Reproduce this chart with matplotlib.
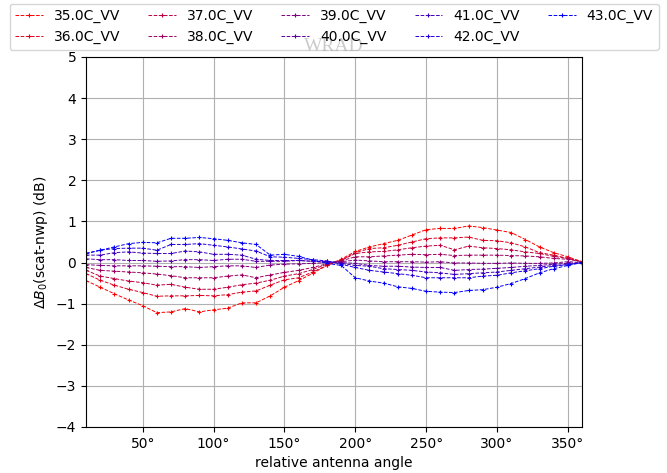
import numpy as np
import matplotlib
matplotlib.use("Agg")
import matplotlib.pyplot as plt
from matplotlib.ticker import FuncFormatter

angles = np.arange(10, 361, 10)
labels = ["35.0C_VV", "36.0C_VV", "37.0C_VV", "38.0C_VV", "39.0C_VV",
          "40.0C_VV", "41.0C_VV", "42.0C_VV", "43.0C_VV"]

s35 = [-0.44, -0.60, -0.76, -0.91, -1.05, -1.22, -1.20, -1.12, -1.20, -1.15, -1.11, -0.98,
       -0.98, -0.81, -0.60, -0.44, -0.26, -0.07, 0.08, 0.27, 0.38, 0.46, 0.54, 0.67,
       0.80, 0.83, 0.83, 0.89, 0.85, 0.79, 0.73, 0.56, 0.38, 0.24, 0.14, 0.02]
s36 = [-0.27, -0.43, -0.55, -0.65, -0.73, -0.82, -0.81, -0.81, -0.80, -0.81, -0.78, -0.72,
       -0.69, -0.55, -0.42, -0.37, -0.23, -0.07, 0.06, 0.24, 0.34, 0.36, 0.42, 0.50,
       0.58, 0.60, 0.60, 0.62, 0.54, 0.53, 0.48, 0.38, 0.24, 0.18, 0.10, 0.02]
s37 = [-0.19, -0.33, -0.39, -0.45, -0.49, -0.55, -0.53, -0.60, -0.65, -0.65, -0.60, -0.54,
       -0.50, -0.43, -0.33, -0.27, -0.17, -0.04, 0.05, 0.22, 0.26, 0.27, 0.31, 0.36,
       0.40, 0.42, 0.31, 0.40, 0.36, 0.34, 0.31, 0.26, 0.22, 0.15, 0.10, 0.02]
s38 = [-0.12, -0.19, -0.21, -0.23, -0.25, -0.28, -0.32, -0.37, -0.37, -0.37, -0.33, -0.30,
       -0.37, -0.30, -0.24, -0.19, -0.12, -0.03, 0.04, 0.14, 0.14, 0.16, 0.18, 0.20,
       0.19, 0.20, 0.17, 0.18, 0.18, 0.18, 0.17, 0.16, 0.14, 0.10, 0.08, 0.02]
s39 = [-0.05, -0.07, -0.08, -0.08, -0.08, -0.09, -0.10, -0.10, -0.12, -0.10, -0.08, -0.08,
       -0.12, -0.06, -0.04, -0.03, -0.02, 0.00, 0.02, 0.06, 0.04, 0.02, 0.02, 0.02,
       0.01, 0.02, -0.01, -0.01, -0.02, -0.02, -0.01, -0.02, -0.02, -0.01, 0.02, 0.00]
s40 = [0.09, 0.07, 0.07, 0.05, 0.05, 0.03, 0.04, 0.07, 0.07, 0.05, 0.08, 0.08,
       0.03, 0.03, 0.03, 0.05, 0.03, 0.03, 0.00, -0.02, -0.07, -0.09, -0.09, -0.11,
       -0.12, -0.12, -0.19, -0.17, -0.16, -0.14, -0.12, -0.09, -0.07, -0.04, -0.02, 0.00]
s41 = [0.18, 0.18, 0.24, 0.26, 0.23, 0.22, 0.22, 0.28, 0.26, 0.20, 0.20, 0.18,
       0.08, 0.05, 0.05, 0.05, 0.03, 0.02, -0.02, -0.07, -0.09, -0.15, -0.17, -0.19,
       -0.23, -0.25, -0.29, -0.27, -0.25, -0.23, -0.19, -0.15, -0.11, -0.07, -0.05, 0.00]
s42 = [0.22, 0.30, 0.34, 0.35, 0.35, 0.30, 0.44, 0.44, 0.46, 0.42, 0.38, 0.33,
       0.28, 0.14, 0.13, 0.10, 0.07, 0.04, -0.04, -0.12, -0.19, -0.23, -0.27, -0.31,
       -0.37, -0.37, -0.37, -0.37, -0.33, -0.31, -0.25, -0.20, -0.15, -0.09, -0.05, 0.00]
s43 = [0.22, 0.30, 0.38, 0.46, 0.49, 0.48, 0.59, 0.59, 0.61, 0.58, 0.54, 0.48,
       0.44, 0.18, 0.20, 0.15, 0.06, -0.02, -0.07, -0.37, -0.45, -0.50, -0.59, -0.63,
       -0.70, -0.72, -0.73, -0.68, -0.66, -0.60, -0.51, -0.39, -0.25, -0.15, -0.07, 0.00]

series = [s35, s36, s37, s38, s39, s40, s41, s42, s43]

fig = plt.figure(figsize=(6.67, 4.73), dpi=100)
ax = fig.add_axes([0.129, 0.0973, 0.7436, 0.7822])

n = len(series)
for i, (lab, vals) in enumerate(zip(labels, series)):
    t = i / (n - 1)
    ax.plot(angles, vals, linestyle="--", marker="+", markersize=3.5,
            markeredgewidth=0.8, linewidth=0.7, color=(1 - t, 0, t), label=lab)

ax.set_xlim(10, 360)
ax.set_ylim(-4, 5)
ax.set_xticks(np.arange(50, 351, 50))
ax.xaxis.set_major_formatter(FuncFormatter(lambda v, p: f"{v:.0f}°"))
ax.set_yticks(np.arange(-4, 6, 1))
ax.grid(True)
ax.set_xlabel("relative antenna angle")
ax.set_ylabel(r"$\Delta B_0$(scat-nwp) (dB)")
ax.set_title("WRAD", family="Liberation Serif", fontsize=14, pad=4)
ax.legend(loc="lower center", bbox_to_anchor=(0.5, 1.0), ncol=5)

fig.savefig("out.png", dpi=100)
